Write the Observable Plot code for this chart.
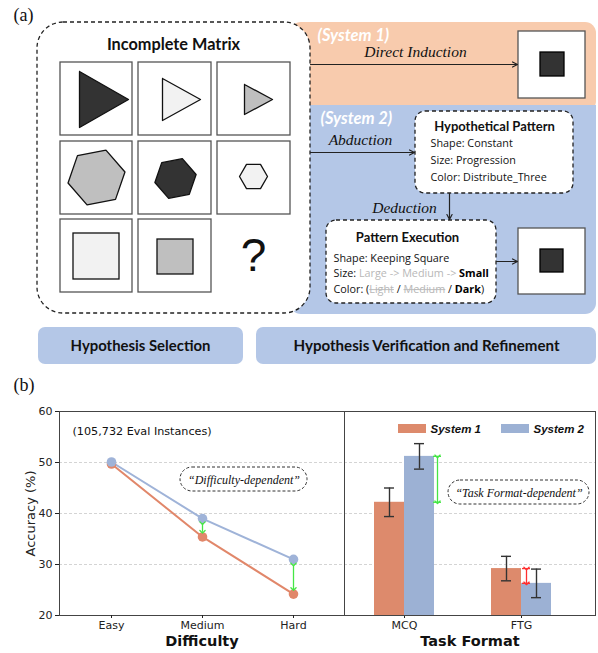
<!DOCTYPE html>
<html>
<head>
<meta charset="utf-8">
<script src="https://cdn.jsdelivr.net/npm/d3@7"></script>
<script src="https://cdn.jsdelivr.net/npm/@observablehq/plot@0.6"></script>
<style>
html,body{margin:0;padding:0;background:#fff;}
#fig{position:relative;width:598px;height:653px;overflow:hidden;background:#fff;}
#fig svg{position:absolute;}
</style>
</head>
<body>
<div id="fig"></div>
<script>
// ===== Panel (b) data =====
const difficulties = ["Easy", "Medium", "Hard"];
const difficultySystem1 = [49.7, 35.4, 24.2];
const difficultySystem2 = [50.1, 39.0, 31.0];
const formats = ["MCQ", "FTG"];
const formatSystem1 = [42.2, 29.2];
const formatSystem1Err = [2.8, 2.4];
const formatSystem2 = [51.2, 26.3];
const formatSystem2Err = [2.5, 2.8];
const systemNames = ["System 1", "System 2"];
const yTicks = [20, 30, 40, 50, 60];
const gridValues = [30, 40, 50];
const difficultyGapFrom = [38.1, 30.0];
const difficultyGapTo = [36.4, 25.2];
const difficultyGapCats = ["Medium", "Hard"];

// ===== Panel (a) texts =====
const matrixTitle = "Incomplete Matrix";
const system1Label = "(System 1)";
const system2Label = "(System 2)";
const hypothesisTitle = "Hypothetical Pattern";
const hypothesisLines = ["Shape: Constant", "Size: Progression", "Color: Distribute_Three"];
const executionTitle = "Pattern Execution";
const stageLabels = ["Hypothesis Selection", "Hypothesis Verification and Refinement"];

const ORANGE_LINE = "#e1876a", BLUE_LINE = "#9fb3d8";
const ORANGE_BAR = "#dd8a6c", BLUE_BAR = "#9cb1d4";
const ORANGE_BG = "#f8cbad", BLUE_BG = "#b4c7e7";
const COMIC = "Open Sans";

const fig = document.getElementById("fig");
function place(svg, left, top) {
  svg.style.left = left + "px";
  svg.style.top = top + "px";
  fig.appendChild(svg);
}

// ---------- Panel (b): left (difficulty) ----------
const diffRows = difficulties.flatMap((d, i) => [
  {cat: d, sys: systemNames[0], v: difficultySystem1[i]},
  {cat: d, sys: systemNames[1], v: difficultySystem2[i]}
]);
const diffGaps = difficultyGapCats.map((c, i) => ({cat: c, from: difficultyGapFrom[i], to: difficultyGapTo[i]}));

const common = {
  height: 283, marginTop: 41, marginBottom: 38,
  style: {background: "transparent", overflow: "visible", fontFamily: "DejaVu Sans", fontSize: "11px", color: "#222"}
};
const titleStyle = {frameAnchor: "bottom", lineAnchor: "middle", dy: 26, fontSize: 14.5, fontWeight: "bold", fill: "#111"};

const leftPlot = Plot.plot({
  ...common,
  width: 344, marginLeft: 59, marginRight: 0,
  x: {type: "point", domain: difficulties, padding: 0.55},
  y: {domain: [20, 60]},
  color: {domain: systemNames, range: [ORANGE_LINE, BLUE_LINE]},
  marks: [
    Plot.ruleY(gridValues, {stroke: "#cfcfcf", strokeDasharray: "3,2", strokeWidth: 0.9}),
    Plot.frame({stroke: "#444", strokeWidth: 1}),
    Plot.axisY(yTicks, {tickSize: 4, tickPadding: 3, fontSize: 11, label: null, color: "#222"}),
    Plot.axisX({tickSize: 3, tickPadding: 3, fontSize: 11, label: null, color: "#222"}),
    Plot.lineY(diffRows, {x: "cat", y: "v", stroke: "sys", z: "sys", strokeWidth: 2}),
    Plot.dot(diffRows, {x: "cat", y: "v", fill: "sys", r: 4.8}),
    Plot.link(diffGaps, {x1: "cat", x2: "cat", y1: "from", y2: "to", stroke: "#45e645", strokeWidth: 1.3, markerStart: "arrow", markerEnd: "arrow"}),
    Plot.text(["Accuracy (%)"], {frameAnchor: "left", textAnchor: "middle", lineAnchor: "middle", rotate: -90, dx: -29, fontSize: 13, fill: "#222"}),
    Plot.text(["Difficulty"], titleStyle)
  ]
});
place(leftPlot, 0, 370);

// ---------- Panel (b): right (task format) ----------
const fmtRows = formats.flatMap((f, i) => [
  {cat: f, sys: systemNames[0], v: formatSystem1[i], e: formatSystem1Err[i]},
  {cat: f, sys: systemNames[1], v: formatSystem2[i], e: formatSystem2Err[i]}
]);
const s1 = fmtRows.filter(d => d.sys === systemNames[0]);
const s2 = fmtRows.filter(d => d.sys === systemNames[1]);
const mcqGap = [{cat: formats[0], from: formatSystem2[0], to: formatSystem1[0]}];
const ftgGap = [{cat: formats[1], from: formatSystem1[1], to: formatSystem2[1]}];
const errStyle = {stroke: "#333", strokeWidth: 1.4};

const rightPlot = Plot.plot({
  ...common,
  width: 254, marginLeft: 0, marginRight: 3,
  x: {domain: formats, paddingInner: 0.487, paddingOuter: 0.316, align: 0.405},
  y: {domain: [20, 60], axis: null},
  marks: [
    Plot.ruleY(gridValues, {stroke: "#cfcfcf", strokeDasharray: "3,2", strokeWidth: 0.9}),
    Plot.axisX({tickSize: 3, tickPadding: 3, fontSize: 11, label: null, color: "#222"}),
    Plot.barY(s1, {x: "cat", y1: 20, y2: "v", fill: ORANGE_BAR, insetRight: 30}),
    Plot.barY(s2, {x: "cat", y1: 20, y2: "v", fill: BLUE_BAR, insetLeft: 30}),
    Plot.frame({stroke: "#444", strokeWidth: 1}),
    Plot.ruleX(s1, {x: "cat", y1: d => d.v - d.e, y2: d => d.v + d.e, dx: -15, ...errStyle}),
    Plot.ruleX(s2, {x: "cat", y1: d => d.v - d.e, y2: d => d.v + d.e, dx: 15, ...errStyle}),
    Plot.tickY(s1, {x: "cat", y: d => d.v + d.e, insetLeft: 10, insetRight: 40, ...errStyle}),
    Plot.tickY(s1, {x: "cat", y: d => d.v - d.e, insetLeft: 10, insetRight: 40, ...errStyle}),
    Plot.tickY(s2, {x: "cat", y: d => d.v + d.e, insetLeft: 40, insetRight: 10, ...errStyle}),
    Plot.tickY(s2, {x: "cat", y: d => d.v - d.e, insetLeft: 40, insetRight: 10, ...errStyle}),
    Plot.link(mcqGap, {x1: "cat", x2: "cat", y1: "from", y2: "to", dx: 33, stroke: "#45e645", strokeWidth: 1.3, markerStart: "arrow", markerEnd: "arrow"}),
    Plot.tickY(mcqGap, {x: "cat", y: "from", insetLeft: 26, insetRight: 26, dx: 33, stroke: "#45e645", strokeWidth: 1.3}),
    Plot.tickY(mcqGap, {x: "cat", y: "to", insetLeft: 26, insetRight: 26, dx: 33, stroke: "#45e645", strokeWidth: 1.3}),
    Plot.link(ftgGap, {x1: "cat", x2: "cat", y1: "from", y2: "to", dx: 5, stroke: "#ff3030", strokeWidth: 1.3, markerStart: "arrow", markerEnd: "arrow"}),
    Plot.tickY(ftgGap, {x: "cat", y: "from", insetLeft: 26, insetRight: 26, dx: 5, stroke: "#ff3030", strokeWidth: 1.3}),
    Plot.tickY(ftgGap, {x: "cat", y: "to", insetLeft: 26, insetRight: 26, dx: 5, stroke: "#ff3030", strokeWidth: 1.3}),
    Plot.text(["Task Format"], titleStyle)
  ]
});
place(rightPlot, 344, 370);

// ---------- Overlay: panel (a) diagram + annotations ----------
const ctx = document.createElement("canvas").getContext("2d");
function tw(s, font) { ctx.font = font; return ctx.measureText(s).width; }

const colX = [[60, 132], [138, 211], [217, 290]];
const rowY = [[62, 135], [141, 214], [219, 292]];
const cells = [];
rowY.forEach((r, i) => colX.forEach((c, j) => { if (!(i === 2 && j === 2)) cells.push({x1: c[0], x2: c[1], y1: r[0], y2: r[1]}); }));

function hexagon(id, cx, cy, r, rotDeg, fill) {
  const pts = [];
  for (let k = 0; k <= 6; k++) {
    const a = (rotDeg - 60 + 60 * k) * Math.PI / 180;
    pts.push({id, fill, x: cx + r * Math.cos(a), y: cy + r * Math.sin(a)});
  }
  return pts;
}
function poly(id, fill, pts) { return [...pts, pts[0]].map(([x, y]) => ({id, fill, x, y})); }
const shapes = [
  ...poly("t1", "#333333", [[79, 71], [128, 99], [79, 127]]),
  ...poly("t2", "#f2f2f2", [[162, 78], [200, 99], [162, 120]]),
  ...poly("t3", "#bfbfbf", [[244, 84], [272, 99], [244, 114]]),
  ...hexagon("h1", 96, 177, 29, -11, "#bfbfbf"),
  ...hexagon("h2", 175, 178, 21, -11, "#333333"),
  ...hexagon("h3", 253, 176, 14, 0, "#f2f2f2")
];
const squares = [
  {x1: 73, x2: 119, y1: 233, y2: 279, fill: "#f2f2f2"},
  {x1: 157, x2: 193, y1: 239, y2: 274, fill: "#bfbfbf"}
];
const answerBoxes = [{x1: 518, x2: 585, y1: 31, y2: 98}, {x1: 518, x2: 585, y1: 228, y2: 294}];
const answerSquares = [{x1: 540, x2: 564, y1: 52, y2: 76}, {x1: 540, x2: 563, y1: 249, y2: 272}];
const arrows = [
  {x1: 310, y1: 64, x2: 517, y2: 64},
  {x1: 310, y1: 152, x2: 414, y2: 152},
  {x1: 449, y1: 193, x2: 449, y2: 219},
  {x1: 496, y1: 261, x2: 517, y2: 261}
];

function T(text, x, y, o = {}) {
  return Plot.text([text], {x: () => x, y: () => y, text: d => d, fontSize: 12, fill: "#111", ...o});
}

// rich text runs for Pattern Execution
const execFont = 10.8;
const execLines = [
  [{t: "Shape: Keeping Square"}],
  [{t: "Size:"}, {gap: " "}, {t: "Large -> Medium ->", c: "#b8b8b8"}, {gap: " "}, {t: "Small", w: "bold", c: "#000"}],
  [{t: "Color: ("}, {t: "Light", c: "#b8b8b8", s: true}, {gap: " "}, {t: "/"}, {gap: " "}, {t: "Medium", c: "#b8b8b8", s: true}, {gap: " "}, {t: "/"}, {gap: " "}, {t: "Dark", w: "bold", c: "#000"}, {t: ")"}]
];
const execMarks = [];
execLines.forEach((line, li) => {
  let x = 333;
  const y = 258 + li * 15.3;
  line.forEach(run => {
    if (run.gap) { x += tw(run.gap, `normal ${execFont}px "${COMIC}"`); return; }
    const font = `${run.w || "normal"} ${execFont}px "${COMIC}"`;
    const w = tw(run.t, font);
    execMarks.push(T(run.t, x, y, {textAnchor: "start", fontFamily: COMIC, fontSize: execFont, fontWeight: run.w || "normal", fill: run.c || "#111"}));
    if (run.s) execMarks.push(Plot.link([0], {x1: [x], x2: [x + w], y1: [y + 0.5], y2: [y + 0.5], stroke: run.c, strokeWidth: 0.9}));
    x += w;
  });
});

const dashed = {fill: "white", stroke: "#222", strokeDasharray: "4,3", strokeWidth: 1.3};

const overlay = Plot.plot({
  width: 598, height: 653,
  marginTop: 0, marginBottom: 0, marginLeft: 0, marginRight: 0,
  x: {domain: [0, 598], range: [0, 598]},
  y: {domain: [0, 653], range: [0, 653]},
  axis: null,
  style: {background: "transparent", overflow: "visible"},
  marks: [
    // background regions
    Plot.rect([0], {x1: 290, x2: 596, y1: 22, y2: 112, rx: 11, fill: ORANGE_BG}),
    Plot.rect([0], {x1: 290, x2: 596, y1: 105, y2: 314, rx: 11, fill: BLUE_BG}),
    Plot.rect([0], {x1: 290, x2: 596, y1: 105, y2: 125, fill: BLUE_BG}),
    // incomplete matrix container
    Plot.rect([0], {x1: 37, x2: 310, y1: 22, y2: 313, rx: 26, ...dashed}),
    Plot.rect(cells, {x1: "x1", x2: "x2", y1: "y1", y2: "y2", fill: "white", stroke: "#555", strokeWidth: 1.3}),
    Plot.line(shapes, {x: "x", y: "y", z: "id", fill: "fill", stroke: "#111", strokeWidth: 1.3, curve: "linear"}),
    Plot.rect(squares, {x1: "x1", x2: "x2", y1: "y1", y2: "y2", fill: "fill", stroke: "#111", strokeWidth: 1.3}),
    T("?", 253, 256, {fontFamily: "Liberation Sans", fontSize: 46, fill: "#111"}),
    T(matrixTitle, 173, 44, {fontFamily: "Lato", fontWeight: "bold", fontSize: 16.3}),
    // stage labels
    Plot.rect([0], {x1: 38, x2: 243, y1: 327, y2: 364, rx: 7, fill: BLUE_BG}),
    Plot.rect([0], {x1: 256, x2: 596, y1: 327, y2: 364, rx: 7, fill: BLUE_BG}),
    T(stageLabels[0], 140, 346, {fontFamily: "Lato", fontWeight: "bold", fontSize: 14.9}),
    T(stageLabels[1], 426, 346, {fontFamily: "Lato", fontWeight: "bold", fontSize: 15.1}),
    // system labels
    T(system1Label, 317, 35, {textAnchor: "start", fontFamily: "Lato", fontWeight: "bold", fontStyle: "italic", fontSize: 16.5, fill: "white"}),
    T(system2Label, 320, 118, {textAnchor: "start", fontFamily: "Lato", fontWeight: "bold", fontStyle: "italic", fontSize: 16.5, fill: "white"}),
    T("Direct Induction", 415, 52, {fontFamily: "Liberation Serif", fontStyle: "italic", fontSize: 15.5}),
    T("Abduction", 360, 140, {fontFamily: "Liberation Serif", fontStyle: "italic", fontSize: 15.5}),
    T("Deduction", 404, 208, {fontFamily: "Liberation Serif", fontStyle: "italic", fontSize: 15.5}),
    // answer boxes
    Plot.rect(answerBoxes, {x1: "x1", x2: "x2", y1: "y1", y2: "y2", fill: "white", stroke: "#555", strokeWidth: 1.3}),
    Plot.rect(answerSquares, {x1: "x1", x2: "x2", y1: "y1", y2: "y2", fill: "#333", stroke: "#000", strokeWidth: 1.3}),
    // hypothesis & execution boxes
    Plot.rect([0], {x1: 415, x2: 573, y1: 111, y2: 193, rx: 10, ...dashed}),
    T(hypothesisTitle, 494, 126, {fontFamily: "Lato", fontWeight: "bold", fontSize: 13}),
    ...hypothesisLines.map((s, i) => T(s, 430, 143 + i * 17, {textAnchor: "start", fontFamily: COMIC, fontSize: execFont})),
    Plot.rect([0], {x1: 326, x2: 496, y1: 220, y2: 303, rx: 10, ...dashed}),
    T(executionTitle, 407, 237, {fontFamily: "Lato", fontWeight: "bold", fontSize: 13}),
    ...execMarks,
    Plot.arrow(arrows, {x1: "x1", y1: "y1", x2: "x2", y2: "y2", stroke: "#222", strokeWidth: 1.2, headLength: 7, headAngle: 55}),
    // panel labels
    T("(a)", 13, 15, {textAnchor: "start", fontFamily: "Liberation Serif", fontSize: 18}),
    T("(b)", 13, 385, {textAnchor: "start", fontFamily: "Liberation Serif", fontSize: 18}),
    // panel (b) annotations
    T("(105,732 Eval Instances)", 72, 431, {textAnchor: "start", fontFamily: "DejaVu Sans", fontSize: 11.2}),
    Plot.rect([0], {x1: 180, x2: 307, y1: 467, y2: 491, rx: 12, fill: "white", stroke: "#333", strokeDasharray: "3,2", strokeWidth: 1}),
    T("\u201cDifficulty-dependent\u201d", 243.5, 479.5, {fontFamily: "Liberation Serif", fontStyle: "italic", fontSize: 12}),
    Plot.rect([0], {x1: 448, x2: 589, y1: 480, y2: 504, rx: 12, fill: "white", stroke: "#333", strokeDasharray: "3,2", strokeWidth: 1}),
    T("\u201cTask Format-dependent\u201d", 518.5, 492.5, {fontFamily: "Liberation Serif", fontStyle: "italic", fontSize: 12}),
    // legend
    Plot.rect([0], {x1: 398, x2: 426, y1: 424, y2: 433, fill: ORANGE_BAR}),
    T(systemNames[0], 430, 428.5, {textAnchor: "start", fontFamily: "Liberation Sans", fontWeight: "bold", fontStyle: "italic", fontSize: 11.5}),
    Plot.rect([0], {x1: 501, x2: 529, y1: 424, y2: 433, fill: BLUE_BAR}),
    T(systemNames[1], 533, 428.5, {textAnchor: "start", fontFamily: "Liberation Sans", fontWeight: "bold", fontStyle: "italic", fontSize: 11.5})
  ]
});
place(overlay, 0, 0);
</script>
</body>
</html>
